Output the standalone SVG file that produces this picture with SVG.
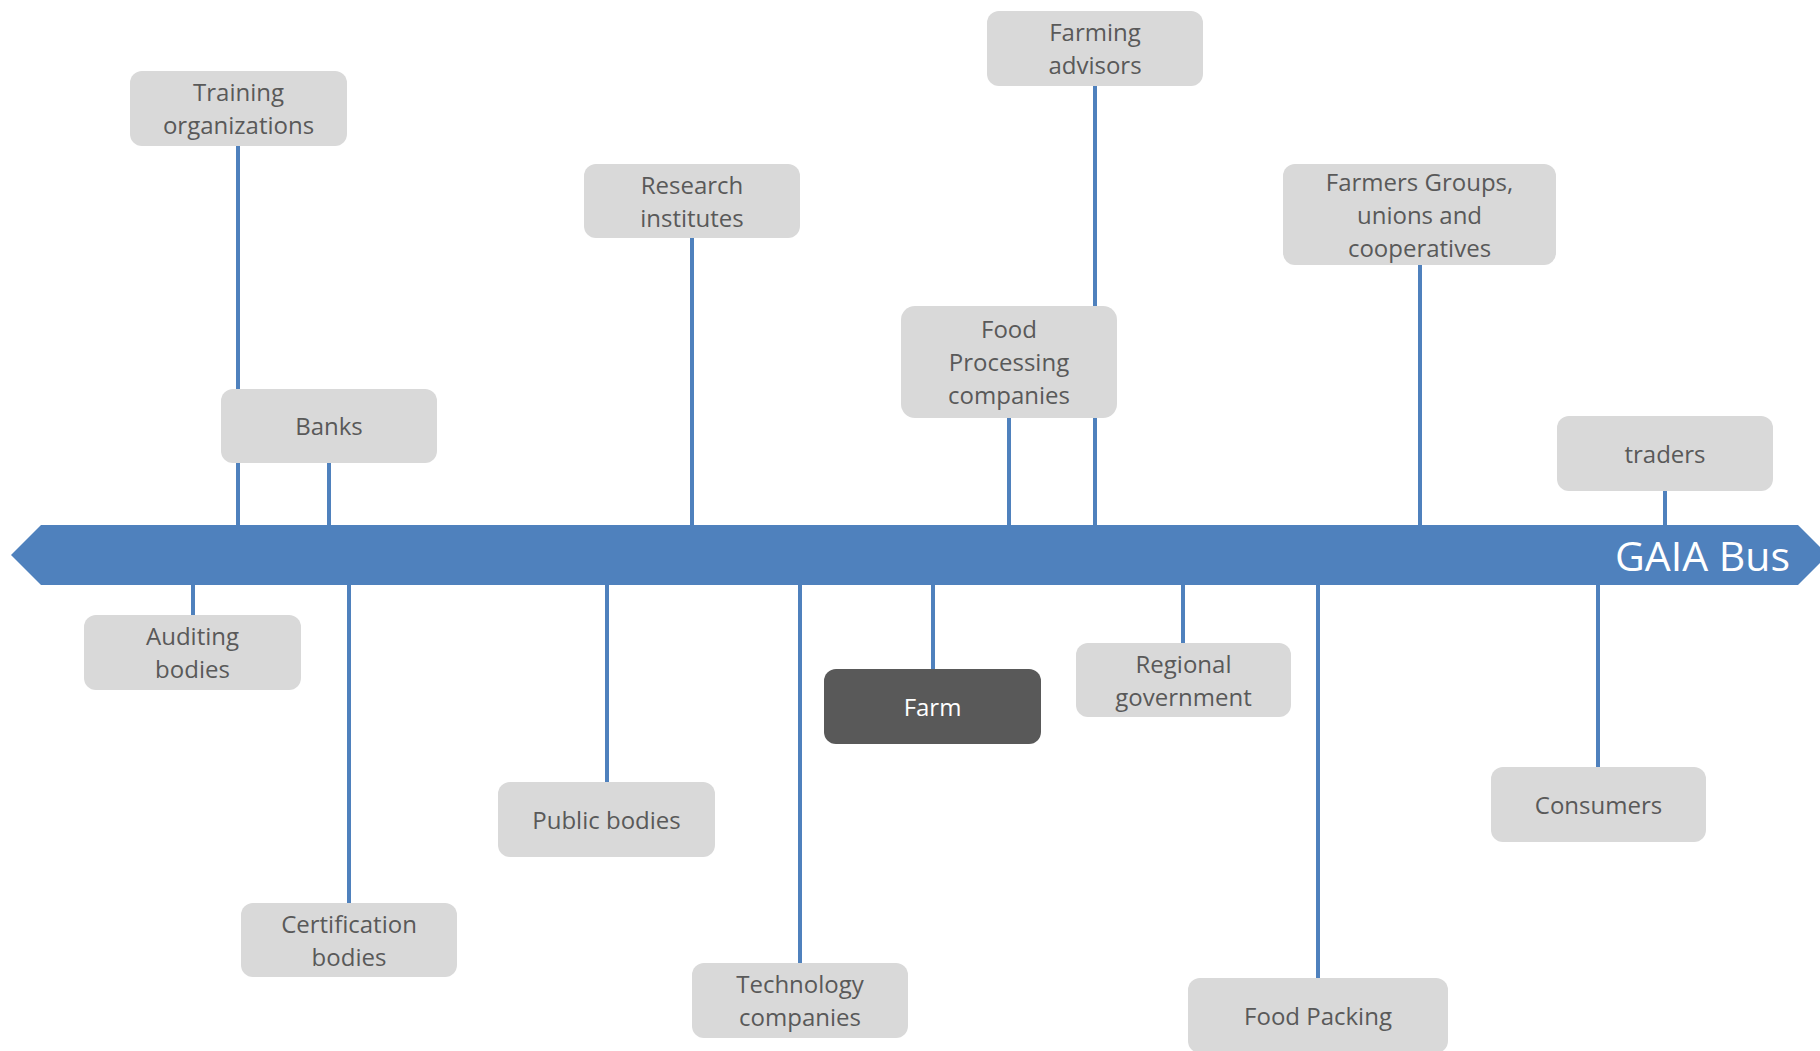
<svg xmlns="http://www.w3.org/2000/svg" width="1820" height="1051" viewBox="0 0 1820 1051">
<style>
.box{fill:#d9d9d9;}
.dark{fill:#595959;}
.t{font-family:"Open Sans","Liberation Sans",sans-serif;font-size:24px;fill:#595959;text-anchor:middle;}
.tw{fill:#ffffff;}
.c{stroke:#4f81bd;stroke-width:4;fill:none;}
.bus{fill:#4f81bd;}
.bt{font-family:"Open Sans","Liberation Sans",sans-serif;font-size:41px;fill:#ffffff;}
</style>
<rect width="1820" height="1051" fill="#ffffff"/>
<g id="connectors">
<line class="c" x1="238" y1="146" x2="238" y2="527"/>
<line class="c" x1="329" y1="463" x2="329" y2="527"/>
<line class="c" x1="692" y1="238" x2="692" y2="527"/>
<line class="c" x1="1009" y1="418" x2="1009" y2="527"/>
<line class="c" x1="1095" y1="86" x2="1095" y2="527"/>
<line class="c" x1="1420" y1="265" x2="1420" y2="527"/>
<line class="c" x1="1665" y1="491" x2="1665" y2="527"/>
<line class="c" x1="193" y1="583" x2="193" y2="615"/>
<line class="c" x1="349" y1="583" x2="349" y2="903"/>
<line class="c" x1="607" y1="583" x2="607" y2="782"/>
<line class="c" x1="800" y1="583" x2="800" y2="963"/>
<line class="c" x1="933" y1="583" x2="933" y2="669"/>
<line class="c" x1="1183" y1="583" x2="1183" y2="643"/>
<line class="c" x1="1318" y1="583" x2="1318" y2="978"/>
<line class="c" x1="1598" y1="583" x2="1598" y2="767"/>
</g>
<g id="gaia-bus">
<polygon class="bus" points="11,555 41,525 1798,525 1828,555 1798,585 41,585"/>
<text class="bt" x="1615" y="571">GAIA Bus</text>
</g>
<g id="training-organizations">
<rect class="box" x="130" y="71" width="217" height="75" rx="12"/>
<text class="t" x="238.5" y="101">Training</text>
<text class="t" x="238.5" y="134">organizations</text>
</g>
<g id="research-institutes">
<rect class="box" x="584" y="164" width="216" height="74" rx="12"/>
<text class="t" x="692" y="193.5">Research</text>
<text class="t" x="692" y="226.5">institutes</text>
</g>
<g id="farming-advisors">
<rect class="box" x="987" y="11" width="216" height="75" rx="12"/>
<text class="t" x="1095" y="41">Farming</text>
<text class="t" x="1095" y="74">advisors</text>
</g>
<g id="farmers-groups">
<rect class="box" x="1283" y="164" width="273" height="101" rx="12"/>
<text class="t" x="1419.5" y="190.5">Farmers Groups,</text>
<text class="t" x="1419.5" y="223.5">unions and</text>
<text class="t" x="1419.5" y="256.5">cooperatives</text>
</g>
<g id="food-processing">
<rect class="box" x="901" y="306" width="216" height="112" rx="14"/>
<text class="t" x="1009" y="338">Food</text>
<text class="t" x="1009" y="371">Processing</text>
<text class="t" x="1009" y="404">companies</text>
</g>
<g id="banks">
<rect class="box" x="221" y="389" width="216" height="74" rx="12"/>
<text class="t" x="329" y="435">Banks</text>
</g>
<g id="traders">
<rect class="box" x="1557" y="416" width="216" height="75" rx="12"/>
<text class="t" x="1665" y="462.5">traders</text>
</g>
<g id="auditing-bodies">
<rect class="box" x="84" y="615" width="217" height="75" rx="12"/>
<text class="t" x="192.5" y="645">Auditing</text>
<text class="t" x="192.5" y="678">bodies</text>
</g>
<g id="regional-government">
<rect class="box" x="1076" y="643" width="215" height="74" rx="12"/>
<text class="t" x="1183.5" y="672.5">Regional</text>
<text class="t" x="1183.5" y="705.5">government</text>
</g>
<g id="farm">
<rect class="dark" x="824" y="669" width="217" height="75" rx="12"/>
<text class="t tw" x="932.5" y="715.5">Farm</text>
</g>
<g id="consumers">
<rect class="box" x="1491" y="767" width="215" height="75" rx="12"/>
<text class="t" x="1598.5" y="813.5">Consumers</text>
</g>
<g id="public-bodies">
<rect class="box" x="498" y="782" width="217" height="75" rx="12"/>
<text class="t" x="606.5" y="828.5">Public bodies</text>
</g>
<g id="certification-bodies">
<rect class="box" x="241" y="903" width="216" height="74" rx="12"/>
<text class="t" x="349" y="932.5">Certification</text>
<text class="t" x="349" y="965.5">bodies</text>
</g>
<g id="technology-companies">
<rect class="box" x="692" y="963" width="216" height="75" rx="12"/>
<text class="t" x="800" y="993">Technology</text>
<text class="t" x="800" y="1026">companies</text>
</g>
<g id="food-packing">
<rect class="box" x="1188" y="978" width="260" height="75" rx="12"/>
<text class="t" x="1318" y="1024.5">Food Packing</text>
</g>
</svg>
